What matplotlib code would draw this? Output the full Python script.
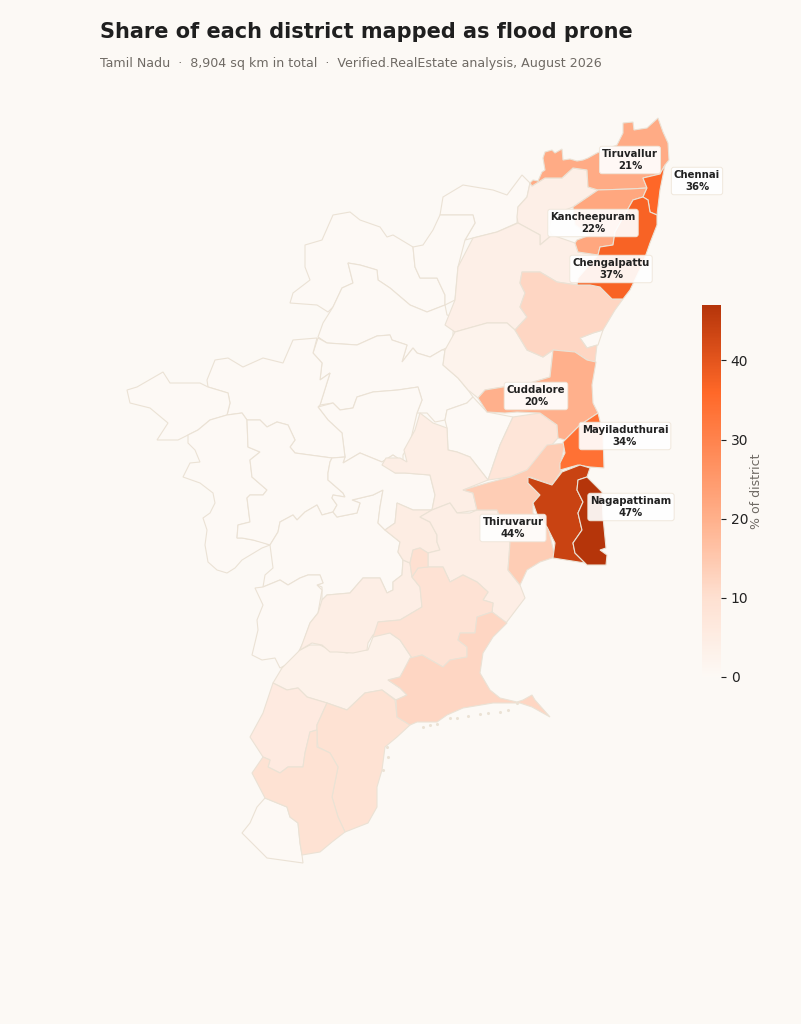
import matplotlib
matplotlib.use('Agg')
import matplotlib.pyplot as plt
from matplotlib.colors import LinearSegmentedColormap
from matplotlib.cm import ScalarMappable
from matplotlib.colors import Normalize
from matplotlib.patches import Polygon

# district outlines (x, y in image pixels)
tiruvallur = [(623,123),(633,122),(634,130),(647,128),(658,118),(663,132),(668,143),(669,160),(665,165),(660,174),(643,178),(647,188),(630,189),(598,190),(588,187),(587,170),(573,168),(562,178),(545,178),(532,186),(530,183),(533,180),(538,181),(542,172),(545,170),(543,158),(545,152),(552,150),(555,153),(562,149),(563,160),(570,159),(577,161),(583,160),(588,158),(597,153),(617,145),(623,133)]
chennai = [(643,178),(660,174),(665,165),(660,190),(657,215),(650,212),(648,200),(643,197),(647,188)]
kancheepuram = [(598,190),(630,189),(647,188),(643,197),(633,200),(615,232),(613,245),(600,247),(598,255),(578,252),(575,243),(577,240),(590,235),(575,225),(573,207)]
chengalpattu = [(643,197),(648,200),(650,212),(657,215),(657,225),(650,243),(643,263),(630,290),(623,299),(612,299),(600,287),(590,285),(577,285),(578,278),(598,255),(600,247),(613,245),(615,232),(633,200)]
ranipet = [(532,186),(545,178),(562,178),(573,168),(587,170),(588,187),(598,190),(573,207),(552,215),(549,230),(552,235),(540,245),(540,235),(518,223),(517,217),(518,207),(527,197),(530,183)]
tiruvannamalai = [(455,300),(458,267),(473,238),(497,232),(518,223),(540,235),(540,245),(552,235),(575,243),(578,252),(598,255),(577,285),(557,282),(540,272),(522,272),(520,283),(525,293),(520,307),(527,317),(515,330),(507,323),(487,323),(455,332),(445,325)]
villupuram = [(522,272),(540,272),(557,282),(577,285),(590,285),(600,287),(612,299),(623,299),(615,310),(603,330),(593,333),(580,338),(587,348),(597,345),(595,362),(587,360),(575,352),(553,350),(543,357),(527,350),(515,330),(527,317),(520,307),(525,293),(520,283)]
puducherry = [(580,338),(593,333),(603,330),(598,345),(587,348)]
kallakurichi = [(445,350),(455,332),(487,323),(507,323),(515,330),(527,350),(543,357),(553,350),(550,377),(530,383),(503,387),(485,390),(478,398),(468,390),(458,378),(443,365)]
cuddalore = [(553,350),(575,352),(587,360),(596,362),(592,385),(593,403),(598,413),(580,425),(565,440),(558,438),(557,425),(540,413),(517,412),(505,413),(487,412),(478,398),(485,390),(503,387),(530,383),(550,377)]
perambalur = [(445,420),(447,410),(467,403),(473,397),(487,412),(513,417),(500,445),(488,480),(470,457),(457,452),(448,450),(447,428)]
ariyalur = [(488,480),(500,445),(513,417),(540,413),(557,425),(558,438),(540,458),(527,470),(510,477)]
mayiladuthurai = [(563,442),(580,425),(598,413),(603,433),(604,468),(590,467),(578,465),(560,470),(560,463),(565,453)]
thanjavur = [(463,490),(487,483),(510,477),(527,470),(547,445),(565,443),(560,467),(562,470),(552,485),(530,477),(528,483),(540,495),(533,503),(533,513),(543,523),(548,527),(555,557),(540,562),(527,570),(520,585),(508,570),(510,543),(497,510),(477,510),(473,493)]
thiruvarur = [(528,477),(552,485),(562,472),(580,465),(590,468),(587,477),(578,480),(577,490),(583,502),(578,513),(582,530),(573,543),(575,553),(585,563),(553,558),(555,543),(547,527),(538,517),(533,503),(540,495),(528,483)]
nagapattinam = [(578,480),(587,477),(593,483),(602,492),(603,517),(606,548),(600,550),(607,555),(606,565),(587,565),(575,553),(573,543),(582,530),(578,513),(583,502),(577,490)]
pudukkottai = [(477,510),(497,510),(510,543),(508,570),(520,585),(525,598),(506,623),(492,612),(493,603),(483,600),(488,592),(477,582),(463,575),(450,582),(443,567),(428,567),(428,553),(440,550),(437,542),(437,535),(430,522),(420,517),(432,510),(450,503),(457,513),(470,513)]
sivaganga = [(378,622),(400,620),(422,607),(420,587),(412,577),(418,568),(428,567),(443,567),(450,582),(463,575),(477,582),(488,592),(483,600),(493,603),(492,612),(477,617),(475,633),(460,633),(458,640),(467,647),(467,657),(450,660),(443,667),(422,655),(412,658),(400,640),(390,633),(373,637)]
enclave = [(410,563),(413,550),(420,548),(428,553),(428,567),(418,568),(412,577)]
dindigul = [(300,650),(310,623),(318,613),(322,600),(327,595),(350,593),(363,578),(380,578),(387,593),(393,590),(393,582),(402,575),(403,560),(410,563),(412,577),(420,587),(422,607),(400,620),(378,622),(383,630),(373,635),(368,643),(367,650),(353,653),(337,652),(330,652),(322,645),(312,643)]
trichy = [(382,465),(386,458),(400,458),(407,462),(404,450),(415,430),(420,413),(433,423),(447,428),(448,450),(457,452),(470,457),(488,480),(463,490),(473,493),(477,510),(457,513),(450,503),(432,510),(435,495),(430,475),(405,473),(395,473)]
karur_east = [(397,503),(413,510),(432,510),(420,517),(430,522),(437,535),(437,542),(440,550),(428,553),(420,548),(413,550),(410,563),(403,560),(398,552),(400,542),(385,530),(395,523)]
virudhunagar = [(282,668),(300,650),(310,645),(320,645),(330,650),(347,653),(357,650),(368,650),(373,637),(378,622),(390,623),(390,633),(400,640),(412,658),(400,677),(388,680),(400,688),(407,695),(396,700),(382,690),(365,693),(347,710),(327,703),(307,697),(298,688),(287,690),(273,683)]
ramanathapuram = [(492,612),(507,623),(493,637),(483,653),(480,673),(490,690),(500,698),(517,702),(523,700),(532,695),(535,700),(550,717),(532,707),(520,703),(493,703),(463,708),(447,715),(437,722),(417,722),(410,725),(397,717),(396,700),(407,695),(400,688),(388,680),(400,677),(410,658),(422,655),(443,667),(450,660),(467,657),(467,647),(458,640),(460,633),(475,633),(477,617)]
thoothukudi = [(317,725),(327,703),(347,710),(365,693),(382,690),(395,700),(397,717),(410,725),(397,737),(385,747),(382,770),(377,787),(377,807),(368,823),(345,832),(338,817),(332,797),(338,767),(330,753),(318,747),(317,737)]
tirunelveli = [(263,757),(270,760),(268,767),(280,773),(288,767),(303,767),(305,753),(310,732),(317,730),(317,747),(330,753),(338,767),(332,797),(338,817),(345,832),(332,842),(320,852),(302,855),(300,843),(298,823),(290,817),(287,807),(265,798),(252,773)]
tenkasi = [(273,683),(287,690),(298,688),(307,697),(327,703),(317,725),(317,730),(310,732),(305,753),(303,767),(288,767),(280,773),(268,767),(270,760),(263,757),(250,737),(263,713)]
kanyakumari = [(265,798),(287,807),(290,817),(298,823),(300,843),(302,855),(303,863),(267,858),(242,833),(250,823),(257,807)]
vellore = [(440,215),(443,197),(463,185),(493,190),(507,195),(522,175),(530,183),(527,197),(518,207),(517,223),(497,232),(473,238),(465,240),(475,223),(473,215)]
tirupattur = [(413,247),(423,245),(433,230),(440,215),(473,215),(475,223),(465,240),(458,267),(455,300),(445,305),(445,295),(437,278),(420,278),(415,267)]
krishnagiri = [(290,303),(293,293),(310,280),(305,267),(305,245),(322,240),(333,215),(350,212),(360,220),(380,227),(387,237),(393,235),(413,247),(415,267),(420,278),(437,278),(445,295),(445,305),(427,312),(410,305),(390,288),(378,280),(377,270),(360,265),(348,263),(353,283),(342,288),(333,307),(328,312),(317,305)]
dharmapuri = [(318,337),(323,323),(333,307),(342,288),(353,283),(348,263),(360,265),(377,270),(378,280),(390,288),(410,305),(427,312),(445,305),(447,315),(455,317),(453,333),(453,345),(442,350),(430,357),(417,353),(413,348),(402,362),(407,345),(392,340),(390,335),(377,336),(357,345),(327,343)]
salem = [(313,353),(318,338),(327,343),(357,345),(377,336),(390,335),(392,340),(407,345),(402,362),(413,348),(417,353),(430,357),(442,350),(445,350),(443,365),(458,378),(468,390),(473,397),(467,403),(447,410),(445,420),(435,422),(427,413),(417,413),(422,400),(418,387),(398,390),(373,392),(357,397),(353,408),(340,410),(333,403),(320,405),(330,373),(320,380),(322,363)]
namakkal = [(318,407),(333,403),(340,410),(353,408),(357,397),(373,392),(398,390),(418,387),(422,400),(417,413),(410,443),(403,455),(403,462),(393,455),(382,462),(360,453),(343,463),(345,457),(342,433),(328,420)]
erode = [(207,380),(215,360),(228,358),(243,367),(263,358),(283,363),(293,340),(317,338),(313,353),(322,363),(320,380),(330,373),(320,405),(318,407),(328,420),(342,433),(345,457),(332,458),(295,453),(290,447),(295,440),(288,425),(277,422),(267,427),(260,420),(247,420),(242,413),(227,415),(230,403),(228,393),(208,387)]
nilgiris = [(127,390),(137,387),(163,372),(170,383),(200,383),(208,387),(228,393),(230,403),(227,415),(210,420),(198,430),(188,435),(178,440),(157,440),(168,423),(150,408),(130,403)]
coimbatore = [(188,435),(198,430),(210,420),(227,415),(242,413),(247,420),(248,447),(260,452),(250,460),(252,477),(267,490),(263,495),(250,495),(247,498),(250,522),(238,525),(237,538),(242,538),(253,540),(262,542),(270,545),(262,548),(242,560),(235,568),(227,573),(217,570),(208,562),(205,545),(207,530),(203,518),(210,513),(215,503),(213,493),(200,483),(183,477),(190,463),(200,462),(195,450),(188,443)]
tiruppur = [(247,420),(248,447),(260,452),(250,460),(252,477),(267,490),(263,495),(250,495),(247,498),(250,522),(238,525),(237,538),(242,538),(253,540),(270,545),(278,532),(280,522),(293,515),(297,520),(305,512),(317,505),(322,515),(333,512),(337,505),(332,498),(333,495),(345,497),(343,493),(328,480),(328,473),(330,462),(332,458),(295,453),(290,447),(295,440),(288,425),(277,422),(267,427),(260,420)]
karur = [(270,545),(278,532),(280,522),(293,515),(297,520),(305,512),(317,505),(322,515),(333,512),(337,517),(357,513),(360,503),(352,500),(373,495),(383,490),(380,507),(378,523),(385,530),(400,542),(398,552),(403,560),(402,575),(393,582),(393,590),(387,593),(380,578),(363,578),(350,593),(327,595),(322,600),(322,587),(317,585),(323,583),(320,575),(308,575),(300,578),(288,585),(280,580),(263,587),(265,575),(273,568)]
perundurai = [(330,462),(332,458),(345,457),(343,463),(360,453),(382,462),(393,455),(403,462),(395,473),(405,473),(430,475),(435,495),(432,510),(413,510),(397,503),(395,523),(385,530),(378,523),(380,507),(383,490),(373,495),(352,500),(360,503),(357,513),(337,517),(333,512),(337,505),(332,498),(333,495),(345,497),(343,493),(328,480),(328,473)]
theni = [(255,588),(263,587),(280,580),(288,585),(300,578),(308,575),(320,575),(323,583),(317,585),(322,590),(318,613),(310,623),(303,643),(298,653),(290,663),(280,668),(275,658),(262,660),(252,655),(258,630),(257,620),(263,605)]

# small islands along the south east coast
island_x = [423, 430, 437, 450, 457, 468, 480, 488, 500, 508, 517, 387, 388, 383]
island_y = [727, 725, 724, 718, 718, 716, 714, 713, 712, 710, 703, 747, 757, 770]

district_outlines = [krishnagiri, dharmapuri, salem, namakkal, erode, nilgiris, coimbatore, tiruppur, karur, perundurai, theni,
                     vellore, tirupattur, perambalur, puducherry, kanyakumari,
                     ranipet, tiruvannamalai, kallakurichi, virudhunagar, dindigul, trichy, karur_east, pudukkottai, tenkasi,
                     ariyalur, sivaganga, enclave, thoothukudi, tirunelveli, villupuram, thanjavur, ramanathapuram,
                     tiruvallur, kancheepuram, cuddalore, mayiladuthurai, chennai, chengalpattu, thiruvarur, nagapattinam]
district_pct = [0, 0, 0, 0, 0, 0, 0, 0, 0, 0, 0,
                0, 0, 0, 0, 0,
                4, 4, 2.5, 3, 4.5, 4.5, 5, 4.5, 6,
                8, 9, 10, 9.5, 9.5, 12, 14, 12,
                21, 22, 20, 34, 36, 37, 44, 47]

label_names = ['Tiruvallur', 'Chennai', 'Kancheepuram', 'Chengalpattu', 'Cuddalore', 'Mayiladuthurai', 'Nagapattinam', 'Thiruvarur']
label_pct = [21, 36, 22, 37, 20, 34, 47, 44]
label_x = [630, 697, 593, 611, 536, 625, 631, 513]
label_y = [160, 181, 223, 269, 396, 436, 507, 528]

bg = '#fcf9f5'
edge = '#ebe2d5'
cmap = LinearSegmentedColormap.from_list('flood', [(0, '#fdf9f5'), (10/47, '#fee0d1'), (20/47, '#ffb08b'),
                                                    (36/47, '#ff6828'), (1, '#b5350a')])
norm = Normalize(0, 47)

fig = plt.figure(figsize=(8.01, 10.24), dpi=100, facecolor=bg)
ax = fig.add_axes([0, 0, 1, 1])
ax.set_xlim(0, 801)
ax.set_ylim(1024, 0)
ax.axis('off')

for outline, pct in zip(district_outlines, district_pct):
    ax.add_patch(Polygon(outline, closed=True, facecolor=cmap(norm(pct)), edgecolor=edge, linewidth=0.8))
ax.plot(island_x, island_y, linestyle='none', marker='o', markersize=1.2, color=edge)

for name, pct, x, y in zip(label_names, label_pct, label_x, label_y):
    ax.text(x, y, f'{name}\n{pct}%', ha='center', va='center', fontsize=7.3, fontweight='bold', color='#222222',
            linespacing=1.3, bbox=dict(boxstyle='round,pad=0.25', facecolor='white', edgecolor='#efe6da', linewidth=0.7, alpha=0.92))

ax.text(100, 32, 'Share of each district mapped as flood prone', fontsize=15, fontweight='bold', color='#1f1f1f', va='center')
ax.text(100, 64, 'Tamil Nadu  ·  8,904 sq km in total  ·  Verified.RealEstate analysis, August 2026',
        fontsize=9.13, color='#6f6a64', va='center')

# colour bar
cax = fig.add_axes([702/801, 1 - 677/1024, 19/801, 372/1024])
cb = fig.colorbar(ScalarMappable(norm=norm, cmap=cmap), cax=cax)
cb.set_ticks([0, 10, 20, 30, 40])
cb.outline.set_visible(False)
cb.ax.tick_params(labelsize=10, colors='#222222', length=3.5, width=0.8)
cb.set_label('% of district', fontsize=9, color='#6f6a64', labelpad=1)

fig.savefig('out.png', dpi=100, facecolor=bg)
